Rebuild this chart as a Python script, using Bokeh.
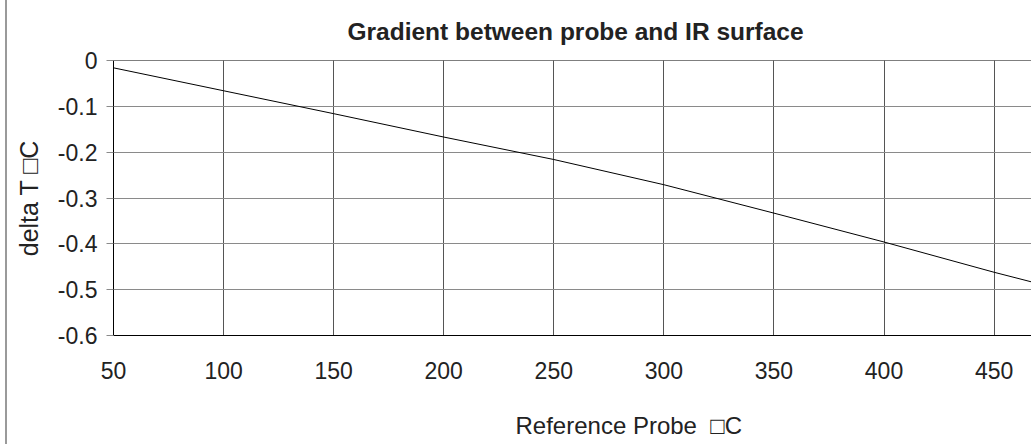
from bokeh.plotting import figure
from bokeh.models import Range1d, FixedTicker, Span, Title
from bokeh.embed import file_html
from bokeh.resources import INLINE

# Data
probe_temp = [50, 100, 150, 200, 250, 300, 350, 400, 450, 467]
delta_t = [-0.016, -0.066, -0.116, -0.167, -0.216, -0.271, -0.333, -0.396, -0.462, -0.483]
x_ticks = [50, 100, 150, 200, 250, 300, 350, 400, 450]
y_ticks = [0, -0.1, -0.2, -0.3, -0.4, -0.5, -0.6]
y_tick_labels = ["0", "-0.1", "-0.2", "-0.3", "-0.4", "-0.5", "-0.6"]

title_text = "Gradient between probe and IR surface"
x_label = "Reference Probe\u00a0\u00a0\u25a1C"
y_label = "delta T \u25a1C"

FONT = "Liberation Sans"
TXT = "#222222"

p = figure(width=1031, height=444, output_backend="svg", toolbar_location=None,
           x_range=Range1d(50, 467), y_range=Range1d(-0.6, 0),
           min_border_left=113, min_border_right=0, min_border_top=60, min_border_bottom=109)
p.outline_line_color = None
p.background_fill_color = "white"
p.border_fill_color = None
p.styles = {"background": "linear-gradient(to right, white 5px, #9a9a9a 5px, #9a9a9a 7px, white 7px)"}

# grid
p.xgrid.ticker = FixedTicker(ticks=x_ticks)
p.ygrid.ticker = FixedTicker(ticks=y_ticks)
p.xgrid.grid_line_color = "#555555"
p.ygrid.grid_line_color = "#8a8a8a"

# x axis
p.xaxis.ticker = FixedTicker(ticks=x_ticks)
p.xaxis.axis_line_color = "black"
p.xaxis.major_tick_out = 0
p.xaxis.major_tick_in = 0
p.xaxis.minor_tick_line_color = None
p.xaxis.major_label_standoff = 26
p.xaxis.major_label_text_font = FONT
p.xaxis.major_label_text_font_size = "23px"
p.xaxis.major_label_text_color = TXT

# y axis
p.yaxis.ticker = FixedTicker(ticks=y_ticks)
p.yaxis.major_label_overrides = {t: s for t, s in zip(y_ticks, y_tick_labels)}
p.yaxis.axis_line_color = "black"
p.yaxis.major_tick_out = 7
p.yaxis.major_tick_in = 0
p.yaxis.major_tick_line_color = "#8a8a8a"
p.yaxis.minor_tick_line_color = None
p.yaxis.major_label_standoff = 9
p.yaxis.major_label_text_font = FONT
p.yaxis.major_label_text_font_size = "23px"
p.yaxis.major_label_text_color = TXT
p.yaxis.axis_label = y_label
p.yaxis.axis_label_text_font = FONT
p.yaxis.axis_label_text_font_size = "25px"
p.yaxis.axis_label_text_font_style = "normal"
p.yaxis.axis_label_text_color = TXT
p.yaxis.axis_label_standoff = 12

# title
p.title.text = title_text
p.title.align = "left"
p.title.offset = 234
p.title.standoff = 31
p.title.text_font = FONT
p.title.text_font_size = "24.5px"
p.title.text_font_style = "bold"
p.title.text_color = TXT

# spacer below the x axis, then the x axis label (offset right like the reference)
p.add_layout(Title(text="\u00a0", standoff=0, text_font=FONT, text_font_size="24px",
                   text_color="white"), "below")
p.add_layout(Title(text=x_label, align="left", offset=402, standoff=0, vertical_align="middle",
                   text_font=FONT, text_font_size="24px", text_font_style="normal",
                   text_color=TXT), "below")

# top edge of frame
p.add_layout(Span(location=0, dimension="width", line_color="black", line_width=1))

# data line
p.line(probe_temp, delta_t, line_color="black", line_width=1)

open("out.html", "w").write(file_html(p, INLINE))
